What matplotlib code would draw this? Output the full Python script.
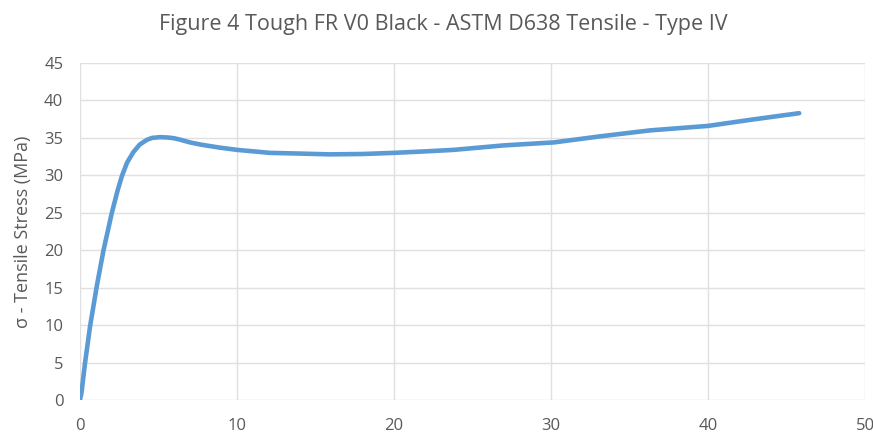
import matplotlib.pyplot as plt

# values
strain = [0, 0.1, 0.32, 0.64, 1.07, 1.5, 2.03, 2.4, 2.67, 3.0, 3.4, 3.8, 4.27,
          4.6, 5.1, 5.6, 6.0, 6.4, 7.0, 7.7, 8.9, 10, 12.1, 14.1, 15.9, 18,
          20, 22, 23.8, 27, 30.2, 33.1, 36.3, 40, 42.65, 45.8]
stress = [0, 1.0, 4.9, 9.8, 15.2, 20, 25, 28.0, 29.9, 31.7, 33.1, 34.1, 34.75,
          35.0, 35.1, 35.05, 34.95, 34.75, 34.4, 34.1, 33.7, 33.4, 33.0, 32.9,
          32.8, 32.85, 33.0, 33.2, 33.4, 34.0, 34.4, 35.2, 36.0, 36.6, 37.4, 38.3]

plt.rcParams['font.family'] = ['Open Sans', 'DejaVu Sans']
grey = '#595959'

fig = plt.figure(figsize=(8.73, 4.36), dpi=100)
ax = fig.add_axes([0.0916, 0.0826, 0.8994, 0.7729])

ax.plot(strain, stress, color='#5B9BD5', linewidth=3.3,
        solid_capstyle='round', solid_joinstyle='round')

ax.set_xlim(0, 50)
ax.set_ylim(0, 45)
ax.set_xticks(range(0, 51, 10))
ax.set_yticks(range(0, 46, 5))
ax.grid(True, color='#e0e0e0', linewidth=1)
ax.set_axisbelow(True)
for s in ax.spines.values():
    s.set_visible(False)
ax.tick_params(length=0, colors=grey, labelsize=12)
ax.tick_params(axis='x', pad=13)
ax.tick_params(axis='y', pad=12)

ax.set_ylabel('σ - Tensile Stress (MPa)', color=grey, fontsize=13, labelpad=9)
fig.text(0.508, 0.943, 'Figure 4 Tough FR V0 Black - ASTM D638 Tensile - Type IV',
         ha='center', va='center', color=grey, fontsize=15.5)

fig.savefig('out.png', dpi=100)
